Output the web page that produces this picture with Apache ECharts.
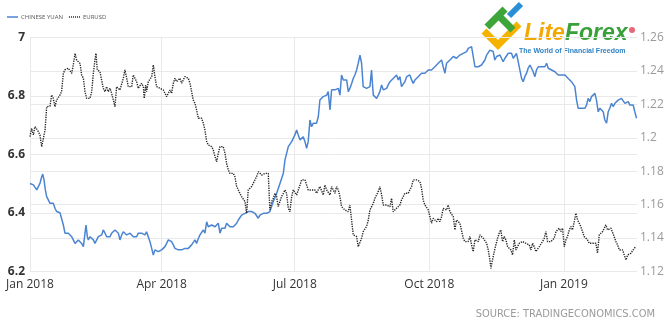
<!DOCTYPE html>
<html>
<head>
<meta charset="utf-8">
<script src="https://cdn.jsdelivr.net/npm/echarts@6/dist/echarts.min.js"></script>
<style>
  html, body { margin: 0; padding: 0; background: #ffffff; }
  #chart { width: 670px; height: 326px; }
</style>
</head>
<body>
<div id="chart"></div>
<script>
// Quarter ticks on the date axis
const tickDates = ['2018-01-01', '2018-04-01', '2018-07-01', '2018-10-01', '2019-01-01'];
const tickLabels = ['Jan 2018', 'Apr 2018', 'Jul 2018', 'Oct 2018', 'Jan 2019'];

// Value ranges of the two scales
const yuanTicks = [6.2, 6.4, 6.6, 6.8, 7];
const euroTicks = [1.12, 1.14, 1.16, 1.18, 1.2, 1.22, 1.24, 1.26];

// Last day shown, counted in days from 1 Jan 2018
const lastDay = 415;

// USD/CNY: days since 1 Jan 2018 and the rate on that day
const yuanDay = [0,2.3,4.6,5.7,6.8,8.0,8.7,9.6,10.5,11.4,12.5,13.7,14.8,15.9,17.1,18.2,19.4,20.5,21.6,22.8,23.9,25.1,26.2,27.3,28.5,29.6,30.8,31.9,33.0,34.2,35.3,36.5,37.6,38.3,39.2,39.9,41.0,42.2,43.3,44.4,45.6,46.7,47.8,49.0,50.1,51.3,52.4,53.5,54.7,55.8,57.0,58.1,59.2,60.4,61.5,62.7,63.8,64.9,66.1,67.2,68.4,69.5,70.6,71.8,72.9,74.0,75.2,76.3,77.5,78.6,79.7,80.9,82.0,83.2,84.3,85.4,86.6,87.7,88.9,90.0,91.1,92.3,93.4,94.6,95.7,96.8,98.0,99.1,100.3,101.4,102.5,103.7,104.8,105.9,107.1,108.2,109.4,110.5,111.6,112.8,113.9,115.1,116.2,117.3,118.5,119.6,120.8,121.9,123.0,124.2,125.3,126.5,127.6,128.7,129.9,131.0,132.1,133.3,134.4,135.6,136.7,137.8,139.0,140.1,141.3,142.4,143.5,144.7,145.8,147.0,148.1,149.2,150.4,151.5,152.7,153.8,154.9,156.1,157.2,158.4,159.5,160.6,161.8,162.9,164.0,166.3,168.6,170.9,173.2,174.3,176.6,178.9,181.1,182.3,183.4,184.6,185.7,186.8,188.0,189.1,190.2,191.4,192.5,193.7,194.8,195.9,197.1,198.2,199.4,200.5,201.6,202.8,203.9,205.1,206.2,207.3,208.5,209.6,210.8,211.9,213.0,214.2,215.3,216.5,217.6,218.7,219.9,221.0,222.1,223.3,224.4,225.6,226.7,227.8,229.0,230.1,231.3,232.4,233.5,234.7,235.8,237.0,238.1,239.2,240.4,241.5,242.7,243.8,244.9,246.1,247.2,248.3,249.5,250.6,251.8,252.9,254.0,255.2,256.3,257.5,258.6,259.7,260.9,262.0,263.2,264.3,265.4,266.6,267.7,268.9,270.0,271.1,272.3,273.4,274.5,275.7,276.8,278.0,279.1,280.2,281.4,282.5,283.7,284.8,285.9,287.1,288.2,289.4,290.5,291.6,292.8,293.9,295.1,296.2,297.3,298.5,299.6,300.8,301.9,303.0,304.2,305.3,306.5,307.6,308.7,309.9,311.0,312.2,313.3,314.4,315.6,316.7,317.8,319.0,320.1,321.3,322.4,323.5,324.7,325.8,327.0,328.1,329.2,330.4,331.5,332.6,333.8,334.9,336.1,337.2,338.3,339.5,340.6,341.8,342.9,344.0,345.2,346.3,347.5,348.6,349.7,350.9,352.0,353.2,354.3,355.4,356.6,357.7,358.9,360.0,361.1,362.3,363.4,364.6,365.7,366.8,368.0,369.1,370.2,371.4,372.5,373.7,374.8,375.9,377.1,378.2,379.4,380.5,381.6,382.8,383.9,385.0,386.2,387.3,388.5,389.6,390.7,391.9,393.0,394.2,395.3,396.4,397.6,398.7,399.9,401.0,402.1,403.3,404.4,405.6,406.7,407.8,409.0,410.1,411.3,412.4,413.5,414.7];
const yuanRate = [6.501,6.496,6.479,6.484,6.501,6.524,6.533,6.513,6.479,6.456,6.445,6.433,6.439,6.433,6.416,6.405,6.401,6.401,6.405,6.359,6.331,6.325,6.331,6.336,6.319,6.308,6.296,6.294,6.308,6.313,6.296,6.285,6.331,6.359,6.319,6.308,6.319,6.325,6.308,6.296,6.308,6.319,6.313,6.325,6.342,6.331,6.319,6.313,6.319,6.331,6.336,6.342,6.348,6.331,6.308,6.325,6.336,6.342,6.325,6.319,6.331,6.331,6.319,6.325,6.319,6.331,6.325,6.331,6.325,6.325,6.336,6.336,6.302,6.279,6.256,6.274,6.279,6.268,6.268,6.274,6.279,6.285,6.291,6.308,6.313,6.302,6.291,6.279,6.274,6.274,6.279,6.274,6.271,6.279,6.274,6.279,6.285,6.291,6.296,6.308,6.296,6.313,6.325,6.325,6.342,6.331,6.370,6.353,6.353,6.359,6.365,6.353,6.348,6.365,6.331,6.348,6.342,6.348,6.365,6.370,6.353,6.353,6.353,6.359,6.365,6.376,6.382,6.393,6.393,6.399,6.405,6.405,6.410,6.405,6.405,6.399,6.393,6.382,6.393,6.399,6.399,6.401,6.399,6.393,6.405,6.439,6.467,6.501,6.536,6.581,6.627,6.644,6.667,6.684,6.667,6.650,6.655,6.661,6.644,6.621,6.644,6.718,6.695,6.707,6.701,6.707,6.729,6.786,6.786,6.798,6.803,6.803,6.815,6.752,6.821,6.821,6.821,6.821,6.826,6.803,6.872,6.855,6.849,6.855,6.815,6.826,6.843,6.860,6.872,6.889,6.912,6.940,6.912,6.832,6.832,6.826,6.826,6.832,6.889,6.803,6.798,6.792,6.803,6.815,6.838,6.821,6.821,6.826,6.838,6.849,6.855,6.860,6.866,6.872,6.855,6.866,6.832,6.838,6.849,6.866,6.872,6.872,6.855,6.843,6.855,6.860,6.866,6.872,6.878,6.883,6.878,6.883,6.889,6.889,6.889,6.895,6.900,6.906,6.912,6.917,6.923,6.900,6.878,6.912,6.917,6.923,6.923,6.935,6.929,6.929,6.935,6.940,6.940,6.946,6.946,6.952,6.963,6.969,6.969,6.969,6.900,6.895,6.900,6.900,6.906,6.912,6.923,6.940,6.946,6.957,6.963,6.952,6.923,6.935,6.929,6.940,6.935,6.917,6.929,6.935,6.946,6.940,6.946,6.929,6.935,6.946,6.917,6.889,6.860,6.849,6.866,6.878,6.895,6.906,6.895,6.883,6.866,6.889,6.900,6.895,6.900,6.895,6.900,6.912,6.895,6.900,6.889,6.889,6.883,6.878,6.872,6.872,6.872,6.866,6.872,6.878,6.860,6.855,6.849,6.843,6.832,6.786,6.758,6.758,6.758,6.764,6.758,6.769,6.792,6.781,6.798,6.803,6.809,6.786,6.746,6.758,6.752,6.746,6.718,6.707,6.746,6.758,6.775,6.764,6.775,6.781,6.786,6.786,6.792,6.798,6.775,6.775,6.781,6.769,6.775,6.769,6.746,6.724];

// EUR/USD: days since 1 Jan 2018 and the rate on that day
const euroDay = [0,1.1,2.3,3.4,5.7,6.8,8.0,9.1,10.3,11.4,12.5,13.7,14.8,15.9,17.1,18.2,19.4,20.5,21.6,22.8,23.9,25.1,26.2,27.3,28.5,29.6,30.8,31.9,33.0,34.2,35.3,36.5,37.6,38.7,39.9,41.0,42.2,43.3,44.4,45.1,46.0,47.8,49.0,50.1,51.3,52.4,53.5,54.7,55.8,57.0,58.1,59.2,60.4,61.5,62.7,63.8,64.9,66.1,67.2,68.4,69.5,70.6,71.8,72.9,74.0,75.2,76.3,77.5,78.1,79.1,79.7,80.9,82.0,83.2,84.3,85.4,86.6,87.7,88.9,90.0,91.1,92.3,93.4,94.6,95.7,96.8,98.0,99.1,100.3,101.4,102.5,103.7,104.8,105.9,107.1,108.2,109.4,110.5,111.6,112.8,113.9,115.1,116.2,117.3,118.5,119.6,120.8,121.9,123.0,124.2,125.3,126.5,127.6,128.7,129.9,131.0,132.1,133.3,134.4,135.6,136.7,137.8,139.0,140.1,141.3,142.4,143.5,144.7,145.8,147.0,148.1,149.2,150.4,151.5,152.7,153.8,154.9,156.1,157.2,158.4,159.5,160.6,161.8,162.9,164.0,165.2,166.3,167.5,168.6,169.7,170.9,172.0,173.2,174.3,175.4,176.6,177.7,178.9,180.0,181.1,182.3,183.4,184.6,185.7,186.8,188.0,189.1,190.2,191.4,192.5,193.7,194.8,195.9,197.1,198.2,199.4,200.5,201.6,202.8,203.9,205.1,206.2,207.3,208.5,209.6,210.8,211.9,213.0,215.3,217.6,218.7,219.9,221.0,222.1,223.3,224.4,225.6,226.7,227.8,230.1,231.3,232.4,233.5,234.7,235.8,238.1,239.2,240.4,241.5,243.8,246.1,247.2,248.3,249.5,250.6,252.9,254.0,255.2,256.3,257.5,258.6,259.7,260.9,262.0,264.3,266.6,267.7,268.8,270.0,271.1,272.3,273.4,274.5,275.7,276.8,278.0,279.1,280.2,281.4,282.5,283.7,284.8,285.9,287.1,288.2,289.4,290.5,291.6,292.8,293.9,295.1,296.2,297.3,298.5,299.6,300.8,301.9,303.0,304.2,305.3,306.5,307.6,308.7,309.9,311.0,312.2,313.3,314.4,315.1,316.2,317.4,318.5,319.7,320.8,321.9,323.1,324.2,325.4,326.5,327.6,328.8,329.9,331.1,332.2,333.3,334.5,335.6,336.8,337.9,339.0,340.2,341.3,342.5,343.6,344.7,345.9,347.0,348.2,349.3,350.4,351.6,352.7,353.9,355.0,356.1,357.3,358.4,359.6,360.7,361.8,363.0,364.1,365.3,366.4,367.5,368.7,369.8,370.9,372.1,373.2,374.4,375.5,376.6,377.8,378.9,380.1,381.2,382.3,383.5,384.6,385.8,386.9,388.0,389.2,390.3,391.5,392.6,393.7,394.9,396.0,397.2,398.3,399.4,400.6,401.7,402.9,404.0,405.1,406.3,407.4,408.6,409.7,410.8,412.0,413.1,414.3];
const euroRate = [1.2007,1.2057,1.2017,1.2067,1.2037,1.2017,1.1947,1.1937,1.2047,1.2186,1.2196,1.2190,1.2256,1.2236,1.2186,1.2226,1.2242,1.2256,1.2276,1.2386,1.2406,1.2396,1.2416,1.2410,1.2386,1.2436,1.2505,1.2465,1.2475,1.2445,1.2376,1.2356,1.2276,1.2236,1.2226,1.2236,1.2276,1.2386,1.2465,1.2505,1.2406,1.2396,1.2386,1.2296,1.2276,1.2306,1.2276,1.2296,1.2266,1.2256,1.2186,1.2306,1.2316,1.2286,1.2296,1.2356,1.2406,1.2356,1.2306,1.2296,1.2306,1.2376,1.2386,1.2336,1.2296,1.2306,1.2326,1.2306,1.2236,1.2316,1.2276,1.2336,1.2346,1.2366,1.2436,1.2366,1.2306,1.2316,1.2296,1.2306,1.2286,1.2266,1.2246,1.2236,1.2286,1.2266,1.2326,1.2356,1.2336,1.2336,1.2356,1.2326,1.2346,1.2366,1.2370,1.2356,1.2326,1.2276,1.2226,1.2206,1.2166,1.2117,1.2107,1.2117,1.2087,1.2047,1.1977,1.1957,1.1967,1.1947,1.1927,1.1887,1.1857,1.1907,1.1947,1.1937,1.1947,1.1907,1.1847,1.1807,1.1787,1.1777,1.1787,1.1767,1.1708,1.1688,1.1668,1.1648,1.1658,1.1618,1.1548,1.1688,1.1678,1.1708,1.1708,1.1748,1.1767,1.1797,1.1787,1.1777,1.1767,1.1787,1.1777,1.1787,1.1568,1.1618,1.1638,1.1668,1.1648,1.1588,1.1598,1.1648,1.1668,1.1688,1.1668,1.1578,1.1558,1.1648,1.1688,1.1678,1.1658,1.1668,1.1718,1.1748,1.1738,1.1748,1.1738,1.1688,1.1678,1.1688,1.1698,1.1688,1.1668,1.1658,1.1708,1.1698,1.1658,1.1718,1.1688,1.1678,1.1658,1.1708,1.1698,1.1668,1.1708,1.1688,1.1648,1.1588,1.1568,1.1558,1.1598,1.1608,1.1419,1.1409,1.1409,1.1349,1.1349,1.1399,1.1439,1.1469,1.1508,1.1568,1.1558,1.1608,1.1638,1.1678,1.1708,1.1658,1.1598,1.1598,1.1588,1.1638,1.1558,1.1568,1.1578,1.1598,1.1628,1.1638,1.1668,1.1678,1.1668,1.1688,1.1708,1.1748,1.1748,1.1738,1.1698,1.1628,1.1598,1.1588,1.1568,1.1558,1.1489,1.1518,1.1508,1.1498,1.1518,1.1498,1.1528,1.1578,1.1588,1.1568,1.1598,1.1558,1.1568,1.1528,1.1449,1.1508,1.1498,1.1489,1.1479,1.1399,1.1379,1.1389,1.1379,1.1409,1.1359,1.1319,1.1389,1.1399,1.1379,1.1419,1.1429,1.1399,1.1409,1.1369,1.1329,1.1269,1.1219,1.1269,1.1319,1.1359,1.1399,1.1429,1.1449,1.1379,1.1409,1.1389,1.1349,1.1339,1.1329,1.1299,1.1389,1.1329,1.1349,1.1369,1.1359,1.1379,1.1379,1.1369,1.1379,1.1359,1.1329,1.1369,1.1349,1.1319,1.1329,1.1349,1.1359,1.1379,1.1399,1.1439,1.1379,1.1369,1.1379,1.1379,1.1399,1.1439,1.1449,1.1459,1.1439,1.1459,1.1349,1.1389,1.1409,1.1449,1.1469,1.1449,1.1498,1.1548,1.1508,1.1498,1.1469,1.1459,1.1409,1.1399,1.1389,1.1369,1.1359,1.1369,1.1369,1.1369,1.1309,1.1419,1.1429,1.1439,1.1459,1.1479,1.1449,1.1459,1.1459,1.1449,1.1409,1.1379,1.1359,1.1329,1.1319,1.1329,1.1299,1.1269,1.1299,1.1299,1.1309,1.1319,1.1339,1.1349];

// Day offset of each quarter tick from the first one
const DAY_MS = 86400000;
function parseDate(s) {
  const p = s.split('-').map(Number);
  return Date.UTC(p[0], p[1] - 1, p[2]);
}
const firstTime = parseDate(tickDates[0]);
const tickDays = tickDates.map(s => Math.round((parseDate(s) - firstTime) / DAY_MS));

function tickLabelFor(v) {
  let best = 0;
  for (let i = 1; i < tickDays.length; i++) {
    if (Math.abs(tickDays[i] - v) < Math.abs(tickDays[best] - v)) best = i;
  }
  return tickLabels[best];
}

const gridColor = '#e9e9e9';
const yuanColor = '#4b85d2';
const euroColor = '#262626';

// Legend swatches: a solid bar and a row of dots
const solidIcon = 'path://M0,0H22V3H0Z';
const dottedIcon = 'path://M0,0h2v3h-2z M4,0h2v3h-2z M8,0h2v3h-2z M12,0h2v3h-2z M16,0h2v3h-2z M20,0h2v3h-2z';

const chart = echarts.init(document.getElementById('chart'), null, { renderer: 'canvas' });

chart.setOption({
  backgroundColor: '#ffffff',
  animation: false,
  textStyle: { fontFamily: '"Open Sans", "Liberation Sans", sans-serif' },
  legend: {
    left: 2,
    top: 9,
    itemWidth: 11,
    itemHeight: 1.5,
    itemGap: 6,
    textStyle: { fontSize: 6, color: '#555555', padding: [0, 0, 0, -2] },
    data: [
      { name: 'CHINESE YUAN', icon: solidIcon },
      { name: 'EURUSD', icon: dottedIcon }
    ]
  },
  grid: { left: 30, right: 33, top: 37.5, bottom: 54.5 },
  xAxis: {
    type: 'value',
    min: 0,
    max: lastDay,
    axisLine: { show: false },
    axisTick: { show: false, customValues: tickDays },
    axisLabel: {
      customValues: tickDays,
      formatter: v => tickLabelFor(v),
      color: '#333333',
      fontSize: 12,
      margin: 7
    },
    splitLine: { show: true, lineStyle: { color: gridColor, width: 1 } }
  },
  yAxis: [
    {
      type: 'value',
      position: 'left',
      min: yuanTicks[0],
      max: yuanTicks[yuanTicks.length - 1],
      interval: 0.2,
      axisLine: { show: false },
      axisTick: { show: false },
      axisLabel: { color: '#333333', fontWeight: 'bold', fontSize: 12, margin: 5 },
      splitLine: { show: true, lineStyle: { color: gridColor, width: 1 } }
    },
    {
      type: 'value',
      position: 'right',
      min: euroTicks[0],
      max: euroTicks[euroTicks.length - 1],
      interval: 0.02,
      axisLine: { show: false },
      axisTick: { show: false },
      axisLabel: { color: '#9a9a9a', fontSize: 12, margin: 3 },
      splitLine: { show: true, lineStyle: { color: gridColor, width: 1 } }
    }
  ],
  series: [
    {
      name: 'CHINESE YUAN',
      type: 'line',
      yAxisIndex: 0,
      symbol: 'none',
      data: yuanDay.map((d, i) => [d, yuanRate[i]]),
      lineStyle: { color: yuanColor, width: 1.5 },
      itemStyle: { color: yuanColor }
    },
    {
      name: 'EURUSD',
      type: 'line',
      yAxisIndex: 1,
      symbol: 'none',
      data: euroDay.map((d, i) => [d, euroRate[i]]),
      lineStyle: { color: euroColor, width: 1.4, type: [1.3, 1.1] },
      itemStyle: { color: euroColor }
    }
  ],
  graphic: [
    // LiteForex mark: yellow chevron, green cross strokes, blue accent
    { type: 'polyline', shape: { points: [[484, 31], [498, 45], [519, 24]] },
      style: { stroke: '#f4b300', lineWidth: 7, fill: null, lineJoin: 'miter' } },
    { type: 'line', shape: { x1: 487, y1: 27, x2: 505, y2: 9 },
      style: { stroke: '#3da53a', lineWidth: 7 } },
    { type: 'line', shape: { x1: 497, y1: 14, x2: 513, y2: 30 },
      style: { stroke: '#3da53a', lineWidth: 7 } },
    { type: 'line', shape: { x1: 509, y1: 16, x2: 521, y2: 4 },
      style: { stroke: '#2b8fd8', lineWidth: 6 } },
    { type: 'text', x: 524, y: 45,
      style: {
        text: '{a|Lite}{b|Forex}',
        verticalAlign: 'bottom',
        rich: {
          a: { fill: '#f2a800', fontSize: 23, fontWeight: 'bold', fontStyle: 'italic', fontFamily: '"Liberation Sans", Arial, sans-serif' },
          b: { fill: '#3aa03a', fontSize: 23, fontWeight: 'bold', fontStyle: 'italic', fontFamily: '"Liberation Sans", Arial, sans-serif' }
        }
      } },
    { type: 'circle', shape: { cx: 632, cy: 30, r: 3 },
      style: { fill: '#e46a7a' } },
    { type: 'text', x: 519, y: 51,
      style: {
        text: 'The World of Financial Freedom',
        fill: '#2f82c4',
        font: 'bold 7px "Liberation Sans", Arial, sans-serif',
        verticalAlign: 'middle'
      } },
    // Data source line
    { type: 'text', x: 655, y: 314,
      style: {
        text: 'SOURCE: TRADINGECONOMICS.COM',
        fill: '#9a9a9a',
        font: '11px "DejaVu Sans Condensed", "Liberation Sans Narrow", sans-serif',
        align: 'right',
        verticalAlign: 'middle'
      } }
  ]
});
</script>
</body>
</html>
